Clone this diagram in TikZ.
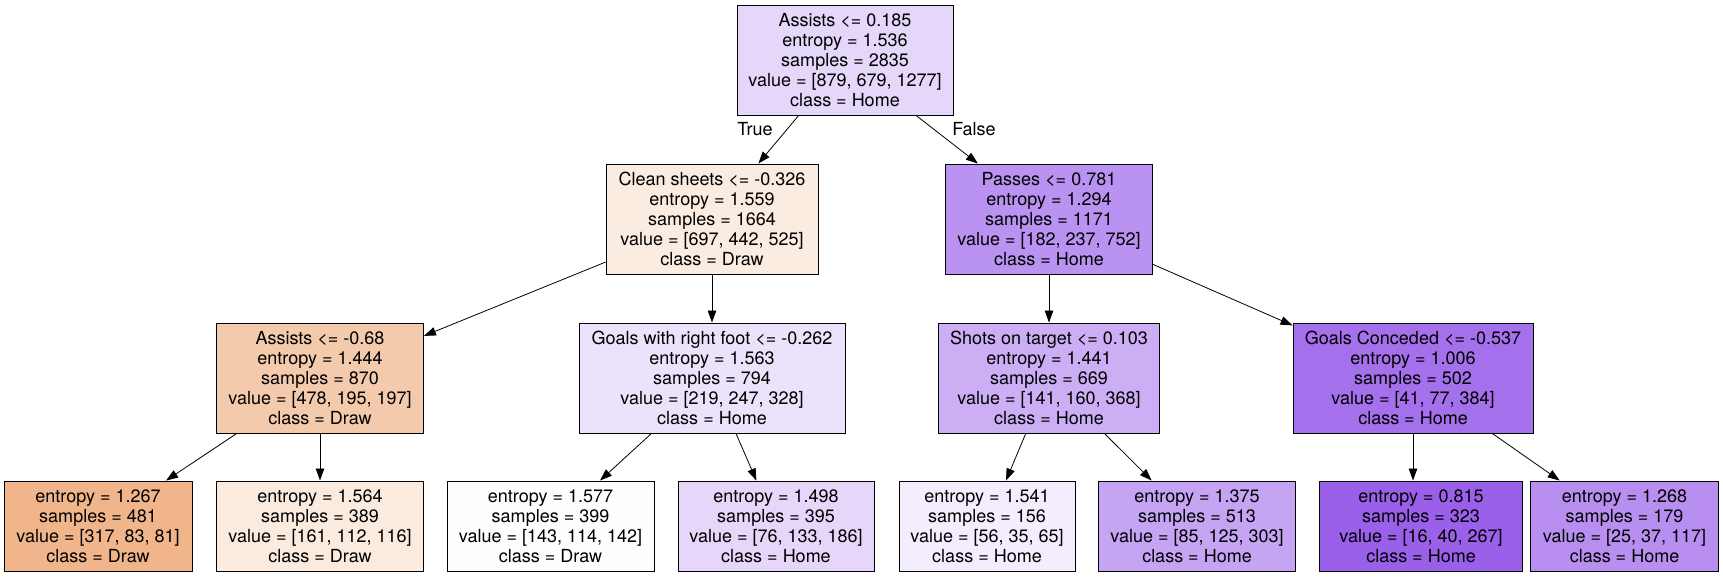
\documentclass[tikz,border=0pt]{standalone}
\usepackage{fontspec}
\setmainfont{TeX Gyre Heros}
\usetikzlibrary{arrows.meta}
\definecolor{cRoot}{RGB}{229,215,250}
\definecolor{cCS}{RGB}{251,236,225}
\definecolor{cPas}{RGB}{186,146,241}
\definecolor{cAs}{RGB}{244,202,172}
\definecolor{cGW}{RGB}{236,226,251}
\definecolor{cSh}{RGB}{203,174,244}
\definecolor{cGC}{RGB}{164,112,236}
\definecolor{cLa}{RGB}{240,181,139}
\definecolor{cLb}{RGB}{251,234,222}
\definecolor{cLc}{RGB}{255,254,254}
\definecolor{cLd}{RGB}{230,215,250}
\definecolor{cLe}{RGB}{244,237,253}
\definecolor{cLf}{RGB}{197,164,243}
\definecolor{cLg}{RGB}{154,96,234}
\definecolor{cLh}{RGB}{184,143,240}
\tikzset{
  tbox/.style={draw=black, line width=0.9pt, rectangle, inner sep=0pt, minimum height=110pt,
    align=center, font=\fontsize{18}{20}\selectfont},
  lbox/.style={tbox, minimum height=90pt},
  arr/.style={-{Triangle[length=12pt,width=8.5pt]}, line width=0.8pt},
  elabel/.style={font=\fontsize{18}{20}\selectfont, inner sep=0pt}
}
\begin{document}
\begin{tikzpicture}[x=1pt,y=-1pt]
\useasboundingbox (0,0) rectangle (1723,577);
\node[tbox, fill=cRoot, minimum width=216pt] (root) at (845,60) {Assists <= 0.185\\entropy = 1.536\\samples = 2835\\value = [879, 679, 1277]\\class = Home};
\node[tbox, fill=cCS, minimum width=212pt] (cs) at (712,219) {Clean sheets <= -0.326\\entropy = 1.559\\samples = 1664\\value = [697, 442, 525]\\class = Draw};
\node[tbox, fill=cPas, minimum width=207pt] (pas) at (1049,219) {Passes <= 0.781\\entropy = 1.294\\samples = 1171\\value = [182, 237, 752]\\class = Home};
\node[tbox, fill=cAs, minimum width=207pt] (as) at (320,378) {Assists <= -0.68\\entropy = 1.444\\samples = 870\\value = [478, 195, 197]\\class = Draw};
\node[tbox, fill=cGW, minimum width=266pt] (gw) at (712,378) {Goals with right foot <= -0.262\\entropy = 1.563\\samples = 794\\value = [219, 247, 328]\\class = Home};
\node[tbox, fill=cSh, minimum width=221pt] (sh) at (1049,378) {Shots on target <= 0.103\\entropy = 1.441\\samples = 669\\value = [141, 160, 368]\\class = Home};
\node[tbox, fill=cGC, minimum width=240pt] (gc) at (1413,378) {Goals Conceded <= -0.537\\entropy = 1.006\\samples = 502\\value = [41, 77, 384]\\class = Home};
\node[lbox, fill=cLa, minimum width=188pt] (la) at (98,526) {entropy = 1.267\\samples = 481\\value = [317, 83, 81]\\class = Draw};
\node[lbox, fill=cLb, minimum width=207pt] (lb) at (320,526) {entropy = 1.564\\samples = 389\\value = [161, 112, 116]\\class = Draw};
\node[lbox, fill=cLc, minimum width=207pt] (lc) at (550.5,526) {entropy = 1.577\\samples = 399\\value = [143, 114, 142]\\class = Draw};
\node[lbox, fill=cLd, minimum width=196pt] (ld) at (776,526) {entropy = 1.498\\samples = 395\\value = [76, 133, 186]\\class = Home};
\node[lbox, fill=cLe, minimum width=176pt] (le) at (987,526) {entropy = 1.541\\samples = 156\\value = [56, 35, 65]\\class = Home};
\node[lbox, fill=cLf, minimum width=197pt] (lf) at (1197,526) {entropy = 1.375\\samples = 513\\value = [85, 125, 303]\\class = Home};
\node[lbox, fill=cLg, minimum width=203pt] (lg) at (1421,526) {entropy = 0.815\\samples = 323\\value = [16, 40, 267]\\class = Home};
\node[lbox, fill=cLh, minimum width=188pt] (lh) at (1624.5,526) {entropy = 1.268\\samples = 179\\value = [25, 37, 117]\\class = Home};
\draw[arr] (root) -- (cs);
\draw[arr] (root) -- (pas);
\draw[arr] (cs) -- (as);
\draw[arr] (cs) -- (gw);
\draw[arr] (pas) -- (sh);
\draw[arr] (pas) -- (gc);
\draw[arr] (as) -- (la);
\draw[arr] (as) -- (lb);
\draw[arr] (gw) -- (lc);
\draw[arr] (gw) -- (ld);
\draw[arr] (sh) -- (le);
\draw[arr] (sh) -- (lf);
\draw[arr] (gc.south) -- (gc.south |- lg.north);
\draw[arr] (gc) -- (lh);
\node[elabel] (ltrue) at (755,129) {True};
\node[elabel] (lfalse) at (974,129) {False};
\end{tikzpicture}
\end{document}
